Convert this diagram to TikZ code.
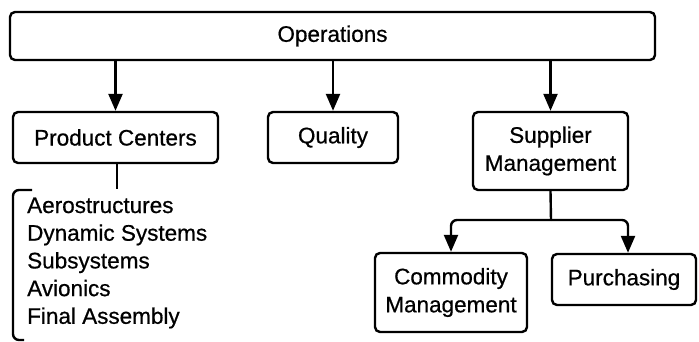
\documentclass[tikz,border=0pt]{standalone}
\usepackage{fontspec}
\setmainfont{Liberation Sans}[FakeBold=0.6]
\usetikzlibrary{arrows.meta}
\begin{document}
\begin{tikzpicture}[x=1pt,y=-1pt,
  box/.style={draw,line width=2.4pt,rounded corners=5pt,align=center,inner sep=0pt,
    font=\fontsize{22.5}{28}\selectfont},
  conn/.style={line width=2.4pt,-{Triangle[length=17pt,width=14pt]}},
  plain/.style={line width=2.4pt}]
\useasboundingbox (0,0) rectangle (699,342);
\node[box,minimum width=645pt,minimum height=48pt] (ops) at (332.5,36) {Operations};
\node[box,minimum width=205pt,minimum height=51pt] (pc) at (115.5,137.5) {Product Centers};
\node[box,minimum width=130pt,minimum height=51pt] (qual) at (333,137.5) {Quality};
\node[box,minimum width=155pt,minimum height=78pt] (sm) at (550.5,151) {Supplier\\Management};
\node[box,minimum width=152pt,minimum height=79pt] (cm) at (451,292.5) {Commodity\\Management};
\node[box,minimum width=144pt,minimum height=51pt] (pur) at (624,279.5) {Purchasing};
\draw[conn] (ops.south -| pc.north) -- (pc.north);
\draw[conn] (ops.south -| qual.north) -- (qual.north);
\draw[conn] (ops.south -| sm.north) -- (sm.north);
\coordinate (j) at (551,220);
\coordinate (pctail) at (117,189);
\draw[plain] (pc.south -| pctail) -- (pctail);
\draw[plain,rounded corners=6pt] (32,190) -- (13,190) -- (13,340) -- (24,340);
\node[anchor=west,align=left,inner sep=0pt,font=\fontsize{22.5}{27.7}\selectfont] (list) at (27,263)
  {Aerostructures\\Dynamic Systems\\Subsystems\\Avionics\\Final Assembly};
\draw[plain] (sm.south) -- (j);
\draw[conn,rounded corners=6pt] (j) -| (cm.north);
\draw[conn,rounded corners=6pt] (j) -| (pur.north -| 628,0);
\end{tikzpicture}
\end{document}
